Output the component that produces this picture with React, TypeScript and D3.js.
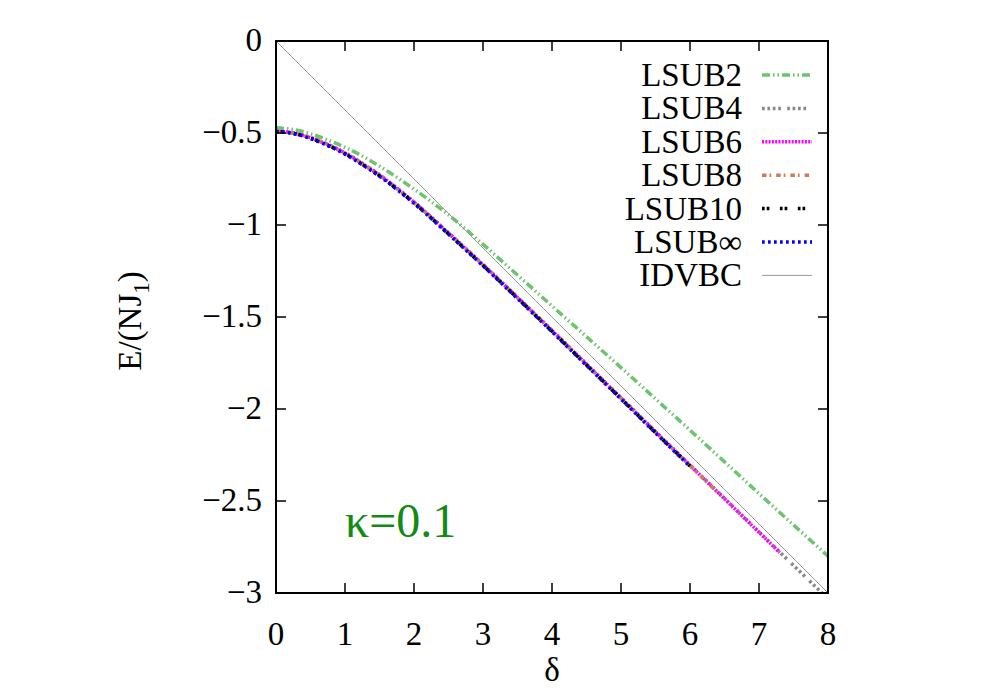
import React from 'react';
import * as d3 from 'd3';

// shared grid for the smooth part of the curves
const deltaFull = [0, 0.25, 0.5, 0.75, 1, 1.25, 1.5, 1.75, 2, 2.5, 3, 3.5, 4, 4.5, 5, 5.5, 6, 6.5, 7, 7.5, 8];

const lsub2 = [-0.472, -0.481, -0.504, -0.538, -0.578, -0.625, -0.68, -0.74, -0.805, -0.945, -1.105, -1.272, -1.44, -1.607, -1.775, -1.945, -2.115, -2.287, -2.46, -2.63, -2.8];
const lsub4 = [-0.488, -0.498, -0.524, -0.561, -0.607, -0.664, -0.727, -0.798, -0.874, -1.042, -1.214, -1.392, -1.572, -1.755, -1.938, -2.122, -2.304, -2.486, -2.668, -2.85, -3.032];
const lsub6Delta = [0, 0.25, 0.5, 0.75, 1, 1.25, 1.5, 1.75, 2, 2.5, 3, 3.5, 4, 4.5, 5, 5.5, 6, 6.5, 7, 7.3];
const lsub6 = [-0.49, -0.5, -0.526, -0.563, -0.609, -0.666, -0.729, -0.8, -0.876, -1.044, -1.216, -1.394, -1.574, -1.757, -1.94, -2.124, -2.306, -2.488, -2.67, -2.78];
const lsub8Delta = [0, 0.25, 0.5, 0.75, 1, 1.25, 1.5, 1.75, 2, 2.5, 3, 3.5, 4, 4.5, 5, 5.5, 6, 6.45];
const lsub8 = [-0.491, -0.501, -0.527, -0.565, -0.611, -0.668, -0.731, -0.802, -0.878, -1.046, -1.218, -1.396, -1.576, -1.759, -1.942, -2.126, -2.308, -2.472];
const lsub10Delta = [0, 0.25, 0.5, 0.75, 1, 1.25, 1.5, 1.75, 2, 2.5, 3, 3.5, 4, 4.5, 5, 5.5, 6];
const lsub10 = [-0.492, -0.502, -0.529, -0.567, -0.613, -0.67, -0.733, -0.804, -0.88, -1.048, -1.22, -1.398, -1.578, -1.761, -1.944, -2.128, -2.31];
const lsubInf = [-0.493, -0.503, -0.53, -0.568, -0.615, -0.672, -0.735, -0.806, -0.882, -1.05, -1.222, -1.4, -1.58, -1.763, -1.946, -2.13, -2.312];
const idvbcDelta = [0, 8];
const idvbc = [0, -3];

const xTicks = [0, 1, 2, 3, 4, 5, 6, 7, 8];
const yTicks = [0, -0.5, -1, -1.5, -2, -2.5, -3];
const yTickLabels = ['0', '\u22120.5', '\u22121', '\u22121.5', '\u22122', '\u22122.5', '\u22123'];

const series = [
  { name: 'LSUB2', d: deltaFull, e: lsub2, color: '#6cc46c', dash: '8,3,1.5,3,1.5,3', w: 3.5 },
  { name: 'LSUB4', d: deltaFull, e: lsub4, color: '#888888', dash: '2.7,2.7,2.7,2.7,2.7,2.7,2.7,6.3', w: 3.5 },
  { name: 'LSUB6', d: lsub6Delta, e: lsub6, color: '#ff00ff', dash: '2,1.3', w: 3.5 },
  { name: 'LSUB8', d: lsub8Delta, e: lsub8, color: '#cd7b5a', dash: '4.5,3,1.7,5', w: 3.5 },
  { name: 'LSUB10', d: lsub10Delta, e: lsub10, color: '#000000', dash: '2.7,2,2.7,10.5', w: 3.5 },
  { name: 'LSUB\u221e', d: lsub10Delta, e: lsubInf, color: '#0000ff', dash: '2.7,3.3', w: 3.5 },
  { name: 'IDVBC', d: idvbcDelta, e: idvbc, color: '#999999', dash: null, w: 1 },
];

const W = 1000;
const H = 700;
const margin = { top: 41, right: 172, bottom: 107, left: 276 };
const font = "'Liberation Serif', 'Times New Roman', 'DejaVu Serif', serif";

export default function App() {
  const x = d3.scaleLinear().domain([0, 8]).range([margin.left, W - margin.right]);
  const y = d3.scaleLinear().domain([-3, 0]).range([H - margin.bottom, margin.top]);
  const line = d3.line<[number, number]>()
    .x(p => x(p[0]))
    .y(p => y(p[1]))
    .curve(d3.curveMonotoneX);

  const x0 = x(0), x1 = x(8), y0 = y(-3), y1 = y(0);
  const tick = 10;
  const fs = 33;

  return (
    <svg width={W} height={H} style={{ position: 'absolute', left: 0, top: 0, background: '#fff' }}>
      <defs>
        <clipPath id="plotClip">
          <rect x={x0} y={y1} width={x1 - x0} height={y0 - y1} />
        </clipPath>
      </defs>

      {/* curves */}
      <g clipPath="url(#plotClip)">
        {series.map(s => (
          <path key={s.name}
            d={line(s.d.map((v, i) => [v, s.e[i]] as [number, number])) || ''}
            fill="none" stroke={s.color} strokeWidth={s.w}
            strokeDasharray={s.dash || undefined} />
        ))}
      </g>

      {/* frame */}
      <rect x={x0} y={y1} width={x1 - x0} height={y0 - y1} fill="none" stroke="#000" strokeWidth={2} />

      <g fontFamily={font}>
        {/* ticks, mirrored */}
        {xTicks.map(t => (
          <g key={'xt' + t}>
            <line x1={x(t)} x2={x(t)} y1={y0} y2={y0 - tick} stroke="#000" strokeWidth={1.5} />
            <line x1={x(t)} x2={x(t)} y1={y1} y2={y1 + tick} stroke="#000" strokeWidth={1.5} />
            <text x={x(t)} y={y0 + 52} textAnchor="middle" fontSize={fs}>{t}</text>
          </g>
        ))}
        {yTicks.map((t, i) => (
          <g key={'yt' + t}>
            <line x1={x0} x2={x0 + tick} y1={y(t)} y2={y(t)} stroke="#000" strokeWidth={1.5} />
            <line x1={x1} x2={x1 - tick} y1={y(t)} y2={y(t)} stroke="#000" strokeWidth={1.5} />
            <text x={x0 - 14} y={y(t) + 10} textAnchor="end" fontSize={fs}>{yTickLabels[i]}</text>
          </g>
        ))}

        {/* axis titles */}
        <text x={(x0 + x1) / 2} y={y0 + 88} textAnchor="middle" fontSize={fs}>δ</text>
        <text transform={`translate(141,${(y0 + y1) / 2 + 4}) rotate(-90)`} textAnchor="middle" fontSize={fs}>
          E/(NJ<tspan fontSize={fs * 0.7} dy={8}>1</tspan><tspan dy={-8}>)</tspan>
        </text>

        {/* legend */}
        {series.map((s, i) => {
          const ly = 75 + i * 33.4;
          return (
            <g key={'lg' + s.name}>
              <text x={742} y={ly + 11} textAnchor="end" fontSize={fs}>{s.name}</text>
              <line x1={762} x2={812} y1={ly} y2={ly} stroke={s.color} strokeWidth={s.w}
                strokeDasharray={s.dash || undefined} />
            </g>
          );
        })}

        <text x={345} y={537} fontSize={48} fill="#138a13">κ=0.1</text>
      </g>
    </svg>
  );
}
